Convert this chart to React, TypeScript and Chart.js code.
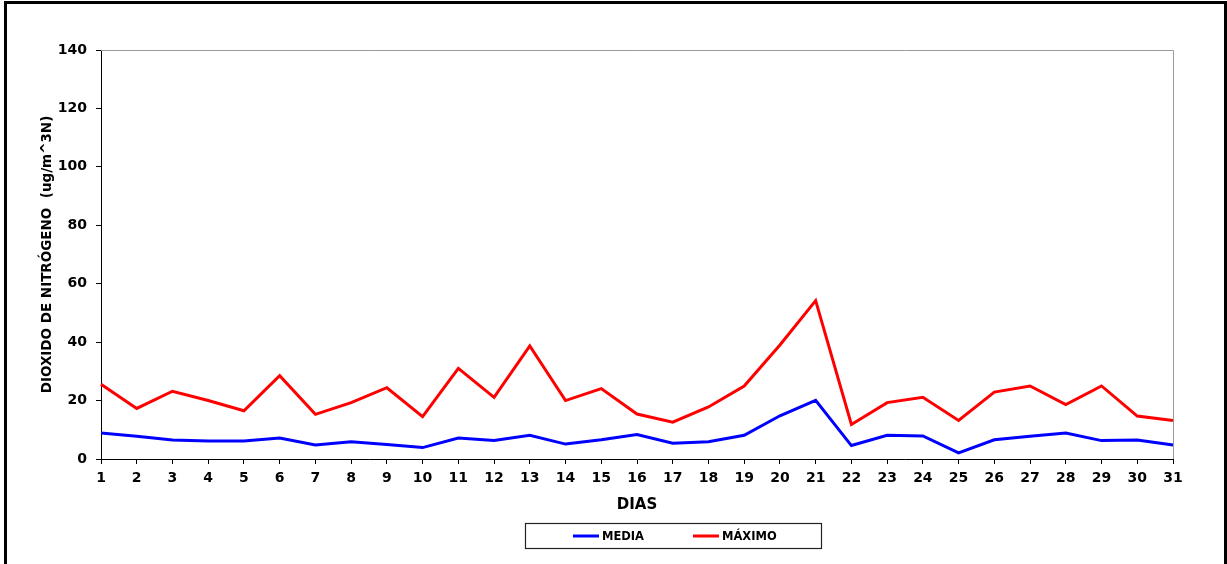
import React, { useEffect, useRef } from "react";
import { Chart, registerables } from "chart.js";

Chart.register(...registerables);

const days: string[] = [
  "1", "2", "3", "4", "5", "6", "7", "8", "9", "10",
  "11", "12", "13", "14", "15", "16", "17", "18", "19", "20",
  "21", "22", "23", "24", "25", "26", "27", "28", "29", "30", "31",
];

const media: number[] = [
  8.9, 7.8, 6.5, 6.2, 6.2, 7.2, 4.8, 5.9, 5.0, 3.9,
  7.2, 6.3, 8.1, 5.1, 6.6, 8.4, 5.4, 5.9, 8.1, 14.8,
  20.1, 4.6, 8.1, 7.9, 2.1, 6.6, 7.8, 8.9, 6.3, 6.5, 4.8,
];

const maximo: number[] = [
  25.6, 17.3, 23.2, 20.0, 16.5, 28.5, 15.3, 19.3, 24.4, 14.5,
  31.0, 21.1, 38.7, 20.0, 24.1, 15.4, 12.6, 17.8, 25.0, 39.0,
  54.2, 11.8, 19.3, 21.1, 13.2, 22.9, 25.0, 18.6, 25.0, 14.7, 13.2,
];

const seriesLabels: string[] = ["MEDIA", "MÁXIMO"];
const seriesColors: string[] = ["#0000FF", "#FF0000"];

const FONT = "'DejaVu Sans', Verdana, sans-serif";

const frameAndLegend = {
  id: "frameAndLegend",
  afterDraw(chart: any) {
    const { ctx, chartArea } = chart;
    ctx.save();
    // gray top & right plot border
    ctx.strokeStyle = "#9a9a9a";
    ctx.lineWidth = 1;
    ctx.beginPath();
    ctx.moveTo(chartArea.left, chartArea.top + 0.5);
    ctx.lineTo(chartArea.right + 0.5, chartArea.top + 0.5);
    ctx.lineTo(chartArea.right + 0.5, chartArea.bottom);
    ctx.stroke();

    // legend box
    const bx = 525.5, by = 523.5, bw = 296, bh = 25;
    ctx.strokeStyle = "#222";
    ctx.lineWidth = 1.2;
    ctx.strokeRect(bx, by, bw, bh);
    const cy = 536;
    const items = [
      { x0: 573, x1: 599, tx: 602 },
      { x0: 693, x1: 719, tx: 722 },
    ];
    ctx.font = `bold 11.5px ${FONT}`;
    ctx.textBaseline = "middle";
    ctx.textAlign = "left";
    items.forEach((it, i) => {
      ctx.strokeStyle = seriesColors[i];
      ctx.lineWidth = 3;
      ctx.beginPath();
      ctx.moveTo(it.x0, cy);
      ctx.lineTo(it.x1, cy);
      ctx.stroke();
      ctx.fillStyle = "#000";
      ctx.fillText(seriesLabels[i], it.tx, cy + 1);
    });
    ctx.restore();
  },
};

export default function App() {
  const ref = useRef<HTMLCanvasElement | null>(null);

  useEffect(() => {
    if (!ref.current) return;
    const chart = new Chart(ref.current, {
      type: "line",
      data: {
        labels: days,
        datasets: [
          {
            label: seriesLabels[0],
            data: media,
            borderColor: seriesColors[0],
            backgroundColor: seriesColors[0],
            borderWidth: 3,
            pointRadius: 0,
            tension: 0,
          },
          {
            label: seriesLabels[1],
            data: maximo,
            borderColor: seriesColors[1],
            backgroundColor: seriesColors[1],
            borderWidth: 3,
            pointRadius: 0,
            tension: 0,
          },
        ],
      },
      options: {
        responsive: false,
        animation: false,
        layout: { padding: { left: 0, top: 50, right: 54, bottom: 45 } },
        plugins: {
          legend: { display: false },
          tooltip: { enabled: false },
        },
        scales: {
          x: {
            type: "category",
            offset: false,
            afterFit: (s: any) => {
              s.height = 60;
            },
            grid: {
              display: true,
              drawOnChartArea: false,
              drawTicks: true,
              tickLength: 5,
              color: "#000",
            },
            border: { display: true, color: "#000", width: 1 },
            ticks: {
              color: "#000",
              font: { family: FONT, size: 14, weight: "bold" },
              padding: 6,
              maxRotation: 0,
              autoSkip: false,
            },
            title: {
              display: true,
              text: "DIAS",
              color: "#000",
              font: { family: FONT, size: 15, weight: "bold" },
              padding: { top: 0, bottom: 5 },
            },
          },
          y: {
            min: 0,
            max: 140,
            afterFit: (s: any) => {
              s.width = 101;
            },
            grid: {
              display: true,
              drawOnChartArea: false,
              drawTicks: true,
              tickLength: 5,
              color: "#000",
            },
            border: { display: true, color: "#000", width: 1 },
            ticks: {
              stepSize: 20,
              color: "#000",
              font: { family: FONT, size: 14, weight: "bold" },
              padding: 9,
            },
            title: {
              display: true,
              text: "DIOXIDO DE NITRÓGENO  (ug/m^3N)",
              color: "#000",
              font: { family: FONT, size: 13.5, weight: "bold" },
              padding: { top: 39, bottom: 0 },
            },
          },
        },
      },
      plugins: [frameAndLegend],
    });
    return () => chart.destroy();
  }, []);

  return (
    <div
      style={{
        position: "absolute",
        left: 0,
        top: 0,
        width: 1227,
        height: 564,
        overflow: "hidden",
        background: "#fff",
      }}
    >
      <canvas ref={ref} width={1227} height={564} style={{ display: "block" }} />
      <div
        style={{
          position: "absolute",
          left: 4,
          top: 1,
          width: 1223,
          height: 700,
          border: "3px solid #000",
          boxSizing: "border-box",
          pointerEvents: "none",
        }}
      />
    </div>
  );
}
